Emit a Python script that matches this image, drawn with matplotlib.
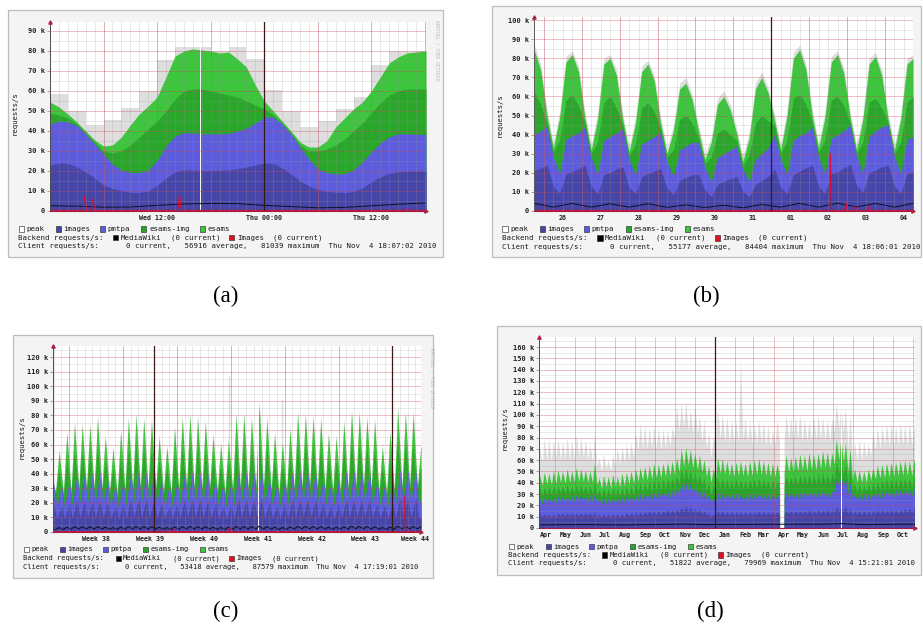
import numpy as np
import matplotlib
matplotlib.use("Agg")
import matplotlib.pyplot as plt
from matplotlib.patches import Rectangle
from datetime import date

plt.rcParams["font.family"] = "DejaVu Sans Mono"

W, H = 923, 630
nan = np.nan

C_PEAK = "#dedede"
C_IMAGES = "#4646a8"
C_PMTPA = "#5c5cdc"
C_ESAMS_IMG = "#2aa62a"
C_ESAMS = "#3ec53e"
C_MW = "#0c0c24"
C_RED = "#d01038"


def flat(groups):
    return [v for g in groups for v in g]


# ---------------- (a) day view, k req/s per hour, hour 0 = Wed 00:00
a_hours = np.arange(43)
a_esams = [54.5, 52, 48.5, 44.5, 40, 35.5, 32.5, 33, 37, 43, 48.5, 52.5, 57, 67, 77.5,
           80, 81.039, 80.5, 80, 79, 79.5, 76, 72, 63, 55, 50, 45, 40, 34.5, 32, 32, 35,
           42, 46.5, 51, 54.5, 60, 67, 74, 77, 79, 79.5, 80]
a_esams_img = [49, 48, 46.5, 43.5, 39, 34.5, 30, 29, 30, 33, 37, 41, 45, 50, 56, 60, 61,
               61, 60, 59, 58, 57, 55, 53, 51, 48, 44, 39, 33, 30, 30, 31, 33, 36, 40, 44,
               49, 54, 58, 60, 61, 61, 61]
a_pmtpa = [43.3, 45, 44.5, 42.8, 38.5, 33.5, 28.5, 23.5, 20.5, 19.3, 19.2, 20.2, 25.3,
           32.5, 37.5, 39.2, 39, 38.6, 38.6, 38.6, 38.8, 40, 41.3, 44, 47, 47, 43.5, 38.5,
           32, 26, 21, 19.2, 18.6, 18.6, 20.5, 24.5, 29.5, 34, 37, 38.6, 38.6, 38.4, 38.3]
a_images = [22.8, 24, 23.8, 22, 19.5, 16.5, 13, 11.2, 10.2, 9.3, 9.2, 10, 12.8, 16.5,
            19.5, 20.6, 20.5, 20.3, 20.3, 20.3, 20.5, 21.2, 22, 23, 24, 23.8, 21.5, 18.5,
            15, 12.5, 10.8, 9.8, 9.4, 9.2, 9.8, 11.5, 14.5, 17, 18.8, 19.6, 20, 20, 20]
a_peak = [58.6, 50, 42.8, 45.6, 51.6, 60, 75.5, 81.9, 82, 80, 82, 76, 60.6, 50, 42, 45,
          51, 57, 73, 80, 80]
a_mw = [2.6, 2.4, 1.9, 2.0, 2.8, 3.5, 3.8, 3.7, 2.8, 2.2, 1.6, 1.8, 2.6, 3.4, 4.0]
a_red_spikes = [(3.9, 7.5), (4.8, 6.0), (14.5, 8.2), (40.2, 1.2)]
a_gap = 16.75

# ---------------- (b) 10 day view, every 4 h from Oct 25 18:00 (day 0 = Oct 25 00:00)
b_esams = flat([[84, 74],
                [50, 33, 49, 78, 82, 73], [49, 32, 48, 77, 80, 71], [48, 31, 46, 73, 77, 68],
                [46, 30, 42, 64, 67, 58], [42, 27, 36, 56, 60, 53], [41, 26, 38, 64, 70, 62],
                [48, 32, 50, 80, 84.404, 74], [50, 33, 49, 78, 82, 72], [49, 32, 48, 77, 81, 71],
                [48, 32, 48, 77, 80]])
b_esams_img = flat([[62, 56],
                    [46, 31, 37, 58, 61, 55], [46, 30, 36, 57, 60, 54], [45, 29, 35, 54, 57, 52],
                    [43, 28, 32, 48, 50, 46], [38, 25, 28, 41, 43, 40], [37, 24, 29, 46, 50, 47],
                    [45, 30, 37, 59, 61, 56], [46, 31, 37, 58, 60, 55], [46, 30, 36, 57, 59, 54],
                    [46, 30, 36, 57, 60]])
b_pmtpa = flat([[40, 42],
                [44.5, 28.5, 19.5, 37.5, 39.5, 41], [44, 28, 19.5, 37, 39, 41], [43, 27, 19, 35, 37, 39],
                [41, 26, 18, 32, 34, 36], [36, 23, 15.5, 28, 30, 32], [34, 22, 15.5, 27, 30, 33],
                [40, 27, 19, 37, 39.5, 41], [44, 28, 19.5, 38, 40, 42], [45, 29, 20, 39, 42, 44],
                [45, 28.5, 19.5, 37.5, 39]])
b_images = flat([[21, 22.5],
                 [24, 13, 9.2, 19.5, 20.5, 22], [24, 13, 9, 19, 20, 22], [23, 12.5, 9, 18, 19.5, 21],
                 [22, 12, 8.5, 16, 17.5, 19], [19, 11, 7.5, 14, 15.5, 17], [18, 10.5, 7.5, 14, 16, 18],
                 [22, 12.5, 9, 19, 21, 22.5], [24, 13, 9.2, 19.5, 20.5, 22.5],
                 [24.5, 13.5, 9.5, 20, 21.5, 23], [24, 13, 9.2, 19.5, 20.5]])
b_peak = flat([[87, 77],
               [53, 36, 52, 81, 84, 76], [52, 35, 51, 80, 82, 74], [51, 34, 49, 76, 79, 71],
               [49, 33, 45, 67, 70, 61], [45, 30, 39, 59, 63, 56], [44, 29, 41, 67, 73, 65],
               [51, 35, 53, 83, 87, 77], [53, 36, 52, 81, 84, 75], [52, 35, 51, 80, 83, 74],
               [51, 35, 51, 80, 82]])
b_mw = [4.0, 2.0, 4.0, 2.0, 3.8, 2.0, 3.8, 1.9, 3.2, 1.8, 3.0, 1.7, 3.4, 2.0, 4.0, 2.0,
        4.1, 2.1, 4.0, 2.0, 4.0]
b_red_spikes = [(8.56, 30), (8.97, 5), (9.19, 2.5), (9.58, 3)]

# ---------------- (c) 6 week view, one high/low per day from Sep 18 (day 0 = Sep 1)
c_total_hi = flat([[55, 67, 74, 73, 73, 78, 65], [57, 69, 77, 80, 77, 76, 65],
                   [58, 71, 78, 80, 78, 75, 66], [60, 63, 80, 80, 77, 87.579, 77],
                   [67, 61, 70, 81, 80, 79, 77], [67, 65, 75, 82, 81, 78, 76],
                   [58, 68, 84, 81, 81, 58]])
c_total_lo = flat([[29, 27, 28, 30, 30, 30, 30], [28, 26, 29, 30, 30, 30, 30],
                   [28, 27, 29, 31, 30, 30, 30], [28, 27, 29, 30, 30, 31, 30],
                   [29, 27, 28, 30, 31, 31, 30], [29, 28, 28, 30, 31, 31, 30],
                   [28, 27, 29, 31, 31, 31]])
c_img_hi = flat([[42, 50, 55, 55, 55, 58, 49], [43, 51, 57, 60, 58, 57, 49],
                 [44, 53, 58, 60, 58, 56, 50], [45, 48, 60, 60, 58, 62, 58],
                 [50, 46, 52, 60, 60, 59, 58], [50, 49, 56, 61, 60, 58, 57],
                 [44, 51, 62, 60, 60, 44]])
c_img_lo = flat([[27, 25, 26, 28, 28, 28, 28], [26, 24, 27, 28, 28, 28, 28],
                 [26, 25, 27, 29, 28, 28, 28], [26, 25, 27, 28, 28, 29, 28],
                 [27, 25, 26, 28, 29, 29, 28], [27, 26, 26, 28, 29, 29, 28],
                 [26, 25, 27, 29, 29, 29]])
c_pmtpa_hi = flat([[33, 32, 35, 40, 40, 40, 41], [35, 32, 35, 41, 42, 41, 41],
                   [35, 32, 35, 41, 42, 41, 40], [35, 33, 34, 41, 42, 41, 41],
                   [37, 33, 35, 41, 42, 41, 41], [36, 33, 36, 42, 42, 41, 41],
                   [35, 33, 36, 43, 42, 42]])
c_pmtpa_lo = flat([[18, 17, 18, 20, 20, 20, 20], [18, 17, 18, 20, 20, 20, 20],
                   [18, 17, 19, 20, 20, 20, 20], [18, 17, 18, 20, 20, 21, 20],
                   [19, 17, 18, 20, 21, 21, 20], [19, 18, 18, 20, 21, 21, 20],
                   [18, 17, 19, 21, 21, 21]])
c_images_hi = flat([[19, 18, 20, 22, 22, 22, 22], [20, 18, 20, 23, 23, 23, 22],
                    [20, 18, 20, 23, 23, 23, 22], [20, 18, 19, 23, 23, 23, 23],
                    [21, 19, 20, 23, 23, 23, 23], [21, 19, 20, 23, 23, 23, 23],
                    [20, 19, 20, 24, 23, 23]])
c_images_lo = flat([[9, 8.5, 9, 9.5, 9.5, 9.5, 9.5], [9, 8.5, 9, 9.5, 9.5, 9.5, 9.5],
                    [9, 8.5, 9, 10, 9.5, 9.5, 9.5], [9, 8.5, 9, 9.5, 10, 10, 9.5],
                    [9, 8.5, 9, 9.5, 10, 10, 9.5], [9, 8.5, 9, 10, 10, 10, 9.5],
                    [9, 8.5, 9, 10, 10, 10]])
c_peak_hi = flat([[58, 70, 77, 76, 76, 81, 68], [60, 72, 80, 83, 80, 79, 68],
                  [61, 74, 81, 83, 81, 78, 69], [63, 66, 83, 83, 80, 91, 80],
                  [70, 64, 73, 84, 83, 82, 80], [70, 68, 78, 85, 84, 81, 79],
                  [61, 71, 87, 84, 84, 61]])
c_peak_spikes = [(39.8, 107), (46.7, 91)]
c_mw_hi = flat([[3.0, 3.3, 3.7, 3.7, 3.7, 3.8, 3.3], [3.0, 3.4, 3.8, 3.9, 3.8, 3.8, 3.3],
                [3.0, 3.5, 3.8, 3.9, 3.8, 3.7, 3.3], [3.1, 3.2, 3.9, 3.9, 3.8, 4.0, 3.8],
                [3.4, 3.1, 3.5, 3.9, 3.9, 3.8, 3.8], [3.4, 3.3, 3.7, 4.0, 3.9, 3.8, 3.7],
                [3.0, 3.4, 4.1, 3.9, 3.9, 3.5]])
c_mw_lo = flat([[1.8, 1.7, 1.8, 2.0, 2.0, 2.0, 2.0], [1.8, 1.7, 1.8, 2.0, 2.0, 2.0, 2.0],
                [1.8, 1.7, 1.8, 2.0, 2.0, 2.0, 2.0], [1.8, 1.7, 1.8, 2.0, 2.0, 2.1, 2.0],
                [1.8, 1.7, 1.8, 2.0, 2.1, 2.1, 2.0], [1.8, 1.7, 1.8, 2.0, 2.1, 2.1, 2.0],
                [1.8, 1.7, 1.8, 2.1, 2.1, 2.1]])
c_red_spikes = [(32.5, 2), (39.9, 3), (62.6, 25)]
c_gap = 43.5

# ---------------- (d) 19 month view: weekday high (Wed) and weekend low (Sun) per week
d_total_wed = flat([[46, 49, 48, 50], [51, 50, 52, 50], [53, 52, 51, 50], [57, 44, 46, 45, 47],
                    [45, 48, 49, 50], [52, 53, 54, 55, 57], [56, 57, 58, 59], [62, 70, 71, 69],
                    [66, 64, 60, 55, 52], [62, 61, 59, 57], [58, 59, 57, 59], [60, 61, 59, 58, 57],
                    [56, nan, 64, 62], [63, 65, 64, 66], [65, 66, 68, 67, 66], [78, 79.969, 75, 70],
                    [52, 51, 50, 52], [53, 55, 56, 57, 58], [58, 59, 60, 59], [59]])
d_total_sun = flat([[37, 38, 38], [39, 40, 39, 40, 40], [41, 41, 40, 40], [38, 35, 36, 35],
                    [36, 36, 37, 38, 39], [41, 42, 42, 43], [44, 44, 45, 46], [46, 49, 54, 55, 53],
                    [51, 49, 45, 40], [44, 48, 47, 46, 45], [46, 46, 45, 46], [47, 47, 46, 45],
                    [45, 46, 48, 49], [49, 50, 51, 50, 51], [51, 52, 53, 52], [56, 60, 58, 50],
                    [42, 40, 40, 40, 42], [43, 44, 44, 45], [45, 46, 46, 46, 46]])
d_img_wed = flat([[35, 36, 36, 37], [37, 37, 38, 37], [38, 38, 37, 37], [40, 34, 35, 35, 36],
                  [35, 36, 37, 37], [39, 40, 40, 41, 42], [42, 43, 43, 44], [46, 52, 53, 51],
                  [49, 47, 44, 40, 38], [44, 44, 43, 42], [43, 43, 42, 43], [43, 44, 43, 42, 42],
                  [42, nan, 46, 45], [46, 47, 47, 48], [47, 48, 49, 48, 48], [58, 60, 57, 53],
                  [39, 39, 38, 39], [40, 41, 42, 43, 43], [43, 44, 44, 44], [44]])
d_img_sun = flat([[28, 29, 29], [29, 30, 30, 30, 30], [31, 31, 30, 30], [29, 27, 27, 27],
                  [27, 28, 28, 29, 29], [31, 31, 32, 32], [33, 33, 34, 35], [35, 38, 42, 42, 40],
                  [38, 36, 33, 29], [32, 35, 35, 34, 34], [35, 34, 34, 35], [35, 35, 35, 34],
                  [34, 35, 36, 37], [37, 37, 38, 38, 38], [38, 38, 39, 38], [43, 48, 46, 39],
                  [32, 31, 31, 32, 32], [33, 33, 34, 34], [34, 35, 35, 35, 35]])
d_pmtpa_wed = flat([[26, 27, 27, 27], [28, 28, 28, 28], [29, 29, 28, 28], [30, 26, 27, 26, 27],
                    [27, 27, 28, 28], [29, 30, 30, 31, 31], [32, 32, 33, 33], [35, 39, 40, 39],
                    [36, 34, 32, 29, 27], [31, 31, 30, 30], [30, 30, 29, 30], [30, 31, 30, 30, 29],
                    [30, nan, 32, 31], [31, 31, 32, 32], [32, 32, 33, 32, 32], [43, 45, 44, 40],
                    [30, 30, 30, 30], [31, 32, 32, 33, 33], [33, 34, 34, 34], [34]])
d_pmtpa_sun = flat([[21, 22, 22], [22, 23, 23, 23, 23], [24, 24, 23, 23], [22, 21, 21, 21],
                    [21, 22, 22, 23, 23], [24, 24, 25, 25], [26, 26, 27, 27], [27, 30, 33, 33, 31],
                    [29, 27, 25, 22], [23, 25, 25, 25, 25], [25, 24, 24, 25], [25, 25, 25, 24],
                    [24, 25, 26, 26], [26, 26, 26, 27, 27], [27, 27, 27, 27], [32, 37, 36, 30],
                    [25, 24, 24, 25, 25], [26, 26, 27, 27], [27, 28, 28, 28, 28]])
d_images_wed = flat([[12, 12, 12, 12], [13, 13, 13, 13], [13, 13, 13, 13], [14, 12, 12, 12, 12],
                     [12, 12, 13, 13], [14, 14, 14, 15, 15], [15, 15, 16, 16], [16, 18, 19, 18],
                     [17, 16, 15, 13, 12], [15, 15, 14, 14], [14, 14, 14, 14], [14, 15, 14, 14, 14],
                     [14, nan, 15, 15], [15, 15, 15, 16], [15, 16, 16, 16, 16], [18, 19, 19, 17],
                     [15, 15, 15, 15], [15, 16, 16, 16, 16], [16, 16, 17, 17], [17]])
d_images_sun = flat([[9, 9, 9], [9, 10, 10, 10, 10], [10, 10, 10, 10], [9, 9, 9, 9],
                     [9, 9, 9, 10, 10], [10, 10, 11, 11], [11, 11, 12, 12], [12, 13, 14, 14, 13],
                     [13, 12, 11, 9], [10, 11, 11, 11, 11], [11, 11, 11, 11], [11, 11, 11, 11],
                     [11, 11, 11, 12], [12, 12, 12, 12, 12], [12, 12, 12, 12], [13, 14, 14, 12],
                     [11, 11, 11, 11, 11], [12, 12, 12, 12], [12, 12, 13, 13, 13]])
d_peak_wed = flat([[70, 78, 78, 77], [78, 76, 79, 77], [82, 80, 78, 74], [83, 62, 65, 60, 65],
                   [70, 72, 74, 75], [85, 92, 90, 88, 90], [88, 87, 86, 88], [108, 110, 112, 105],
                   [110, 100, 95, 85, 80], [106, 100, 98, 96], [95, 150, 97, 94], [92, 95, 93, 90, 86],
                   [95, nan, 100, 97], [98, 100, 96, 94], [98, 100, 97, 95, 96], [110, 108, 106, 100],
                   [75, 77, 76, 74], [85, 88, 90, 92, 93], [90, 92, 91, 93], [88]])
d_peak_sun = flat([[58, 60, 60], [61, 60, 61, 60, 60], [62, 61, 60, 58], [55, 50, 52, 50],
                   [54, 56, 58, 60, 62], [68, 70, 70, 70], [70, 69, 70, 72], [80, 85, 88, 85, 82],
                   [82, 75, 70, 62], [75, 78, 76, 75, 75], [75, 76, 75, 74], [74, 75, 72, 72],
                   [74, 75, 78, 78], [78, 78, 76, 76, 76], [78, 78, 77, 76], [85, 88, 85, 70],
                   [60, 60, 60, 62, 64], [68, 70, 72, 72], [72, 72, 73, 72, 72]])
d_mw = [2.8, 2.9, 3.0, 2.8, 2.7, 3.0, 3.2, 3.5, 3.0, 3.2, 3.2, 3.3, 3.3, 3.4, 3.4, 3.8,
        3.0, 3.2, 3.4, 3.4]
d_gap = 193

fig = plt.figure(figsize=(W / 100, H / 100), dpi=100)
fig.patch.set_facecolor("white")


def ftext(x, y, s, **kw):
    fig.text(x / W, 1 - y / H, s, **kw)


def fbox(x, yc, w, color):
    fig.add_artist(Rectangle((x / W, 1 - (yc + 2.6) / H), w / W, 5.2 / H,
                             transform=fig.transFigure, facecolor=color,
                             edgecolor="#202020", lw=0.4, zorder=4))


def zigzag(xa, ya, xb, yb):
    x = np.concatenate([xa, xb])
    y = np.concatenate([np.asarray(ya, float), np.asarray(yb, float)])
    o = np.argsort(x, kind="stable")
    return x[o], y[o]


def to_edges(x, y, x0, x1):
    x = np.asarray(x, float)
    y = np.asarray(y, float)
    return np.r_[x0, x, x1], np.r_[y[0], y, y[-1]]


def spike_line(x0, x1, base, spikes, w):
    xs, ys = [x0], [base]
    for t, h in spikes:
        xs += [t - w, t, t + w]
        ys += [base, h, base]
    return xs + [x1], ys + [base]


def panel(box, plot, ytop, xlim):
    l, t, r, b = box
    fig.add_artist(Rectangle((l / W, 1 - b / H), (r - l) / W, (b - t) / H,
                             transform=fig.transFigure, facecolor="#f4f4f4",
                             edgecolor="#bcbcbc", lw=0.9, zorder=-1))
    pl, pt, pr, pb = plot
    ax = fig.add_axes([pl / W, 1 - pb / H, (pr - pl) / W, (pb - pt) / H])
    ax.set_xlim(*xlim)
    ax.set_ylim(0, ytop)
    ax.set_facecolor("white")
    for s in ("top", "right"):
        ax.spines[s].set_visible(False)
    ax.spines["left"].set_color("#4a4a4a")
    ax.spines["left"].set_linewidth(0.7)
    ax.spines["bottom"].set_color("#a02040")
    ax.spines["bottom"].set_linewidth(0.8)
    yt = np.arange(0, ytop, 10)
    ax.set_yticks(yt, ["0"] + [f"{int(v)} k" for v in yt[1:]])
    ax.tick_params(axis="y", length=2, width=0.5, color="#808080", pad=1.5,
                   labelsize=5.0, labelcolor="#202020")
    ax.tick_params(axis="x", length=0, pad=3, labelsize=4.8, labelcolor="#202020")
    for lab in ax.get_yticklabels():
        lab.set_fontweight("bold")
    ax.plot([0], [1], marker="^", ms=2.4, color="#b02040", transform=ax.transAxes,
            clip_on=False, zorder=6)
    ax.plot([1], [0], marker=">", ms=2.4, color="#b02040", transform=ax.transAxes,
            clip_on=False, zorder=6)
    return ax


def xlabels(ax, pos, labels):
    ax.set_xticks(pos, labels)
    for lab in ax.get_xticklabels():
        lab.set_fontweight("bold")


def grid(ax, xminor, xmajor, ytop):
    for v in xminor:
        ax.axvline(v, color="#9a9a9a", lw=0.5, alpha=0.3, zorder=4)
    for v in np.arange(5, ytop, 10):
        ax.axhline(v, color="#9a9a9a", lw=0.5, alpha=0.3, zorder=4)
    for v in xmajor:
        ax.axvline(v, color="#d04858", lw=0.55, alpha=0.45, zorder=4)
    for v in np.arange(10, ytop, 10):
        ax.axhline(v, color="#d04858", lw=0.55, alpha=0.45, zorder=4)


def fill(ax, x, y, color):
    ax.fill_between(x, 0, y, color=color, lw=0, zorder=1)


def legend(x0, rows, cw, stats, fs):
    y1, y2, y3 = rows
    kw = dict(fontsize=fs, va="center", ha="left", color="#1a1a1a")
    bw = 1.15 * cw
    for col, name, c in [(0.1, "peak", "white"), (8.5, "images", C_IMAGES),
                         (18.4, "pmtpa", C_PMTPA), (27.8, "esams-img", C_ESAMS_IMG),
                         (41.0, "esams", C_ESAMS)]:
        fbox(x0 + col * cw, y1, bw, c)
        ftext(x0 + (col + 1.75) * cw, y1, name, **kw)
    ftext(x0, y2, "Backend requests/s:", **kw)
    fbox(x0 + 21.4 * cw, y2, bw, "black")
    ftext(x0 + 23.1 * cw, y2, "MediaWiki", **kw)
    ftext(x0 + 34.6 * cw, y2, "(0 current)", **kw)
    fbox(x0 + 47.7 * cw, y2, bw, "#e01020")
    ftext(x0 + 49.4 * cw, y2, "Images", **kw)
    ftext(x0 + 57.5 * cw, y2, "(0 current)", **kw)
    ftext(x0, y3, stats, **kw)


def stats_line(avg, peak_k, stamp):
    return (f"Client requests/s:      0 current,   {avg} average,   "
            f"{int(round(peak_k * 1000))} maximum  {stamp}")


def ylabel(x, y, fs=5.2):
    ftext(x, y, "requests/s", rotation=90, ha="center", va="center", fontsize=fs,
          color="#1a1a1a")


def signature(x, y):
    ftext(x, y, "RRDTOOL / TOBI OETIKER", rotation=270, ha="center", va="center",
          fontsize=3.3, color="#bdbdbd")


def caption(x, y, s):
    ftext(x, y, s, fontsize=16.5, family="Liberation Serif", ha="center", va="center")


# ================= (a)
ax = panel((8, 10, 443, 257), (50, 22, 426, 211), 94.5, (0, 42.12))
ax.stairs(a_peak, np.arange(0, 43, 2), fill=True, color=C_PEAK, lw=0, zorder=0.5)
for ys, c in [(a_esams, C_ESAMS), (a_esams_img, C_ESAMS_IMG), (a_pmtpa, C_PMTPA),
              (a_images, C_IMAGES)]:
    fill(ax, *to_edges(a_hours, ys, 0, 42.12), c)
ax.axvline(a_gap, color="white", lw=0.7, zorder=1.5)
ax.plot(*to_edges(np.arange(0, 43, 3), a_mw, 0, 42.12), color=C_MW, lw=0.7, zorder=2)
ax.plot(*spike_line(0, 42.12, 0.3, a_red_spikes, 0.2), color=C_RED, lw=0.8, zorder=2)
grid(ax, np.arange(1, 43), np.arange(6, 43, 6), 94.5)
ax.axvline(24, color="#3a1818", lw=0.9, zorder=5)
xlabels(ax, [12, 24, 36], ["Wed 12:00", "Thu 00:00", "Thu 12:00"])
legend(18.5, (229, 237.7, 246.3), 4.42, stats_line(56916, max(a_esams), "Thu Nov  4 18:07:02 2010"), 5.29)
ylabel(15, 113)
signature(437, 50)
caption(226, 296, "(a)")

# ================= (b)
b_t = 0.75 + np.arange(61) / 6
bx = (0.74, 10.74)
ax = panel((492, 6, 921, 257), (534, 17, 913, 211), 101.6, bx)
for ys, c in [(b_peak, C_PEAK), (b_esams, C_ESAMS), (b_esams_img, C_ESAMS_IMG),
              (b_pmtpa, C_PMTPA), (b_images, C_IMAGES)]:
    fill(ax, *to_edges(b_t, ys, *bx), c)
ax.plot(*to_edges(0.75 + np.arange(21) / 2, b_mw, *bx), color=C_MW, lw=0.7, zorder=2)
ax.plot(*spike_line(bx[0], bx[1], 0.3, b_red_spikes, 0.025), color=C_RED, lw=0.8, zorder=2)
grid(ax, np.arange(0.75, 10.75, 0.25), np.arange(1, 11), 101.6)
ax.axvline(7, color="#3a1818", lw=0.9, zorder=5)
xlabels(ax, np.arange(1, 11) + 0.5, ["26", "27", "28", "29", "30", "31", "01", "02", "03", "04"])
legend(502, (229, 238, 247), 4.46, stats_line(55177, max(b_esams), "Thu Nov  4 18:06:01 2010"), 5.34)
ylabel(500, 115)
caption(706, 296, "(b)")

# ================= (c)
c_day = 17 + np.arange(48)
cx = (16.9, 64.72)
ax = panel((13, 335, 433, 578), (53, 346, 421, 532), 127.6, cx)
layers_c = [
    (zigzag(c_day + 0.69, c_peak_hi, c_day + 0.25, c_total_lo), C_PEAK),
    (zigzag(c_day + 0.69, c_total_hi, c_day + 0.25, c_total_lo), C_ESAMS),
    (zigzag(c_day + 0.67, c_img_hi, c_day + 0.25, c_img_lo), C_ESAMS_IMG),
    (zigzag(c_day + 0.02, c_pmtpa_hi, c_day + 0.38, c_pmtpa_lo), C_PMTPA),
    (zigzag(c_day + 0.02, c_images_hi, c_day + 0.40, c_images_lo), C_IMAGES),
]
for (xs, ys), c in layers_c:
    fill(ax, *to_edges(xs, ys, *cx), c)
ax.vlines([s[0] for s in c_peak_spikes], 0, [s[1] for s in c_peak_spikes], color=C_PEAK,
          lw=1.0, zorder=0.5)
ax.axvline(c_gap, color="white", lw=0.7, zorder=1.5)
ax.plot(*to_edges(*zigzag(c_day + 0.69, c_mw_hi, c_day + 0.25, c_mw_lo), *cx), color=C_MW,
        lw=0.7, zorder=2)
ax.plot(*spike_line(cx[0], cx[1], 0.3, c_red_spikes, 0.15), color=C_RED, lw=0.8, zorder=2)
grid(ax, np.arange(17, 65), np.arange(19, 65, 7), 127.6)
for v in (30, 61):
    ax.axvline(v, color="#3a1818", lw=0.9, zorder=5)
xlabels(ax, [22.5, 29.5, 36.5, 43.5, 50.5, 57.5, 64.0], [f"Week {w}" for w in range(38, 45)])
legend(23.3, (549.3, 558.3, 566.7), 4.32, stats_line(53418, max(c_total_hi), "Thu Nov  4 17:19:01 2010"), 5.17)
ylabel(21.7, 437)
signature(431.5, 378)
caption(226, 611, "(c)")

# ================= (d)
ref = date(2010, 1, 1)
months = [(2009 + (m - 1) // 12, (m - 1) % 12 + 1) for m in range(4, 24)]
month_start = np.array([(date(y, m, 1) - ref).days for y, m in months])
d_wed = -268 + 7 * np.arange(83)
d_sun = -264 + 7 * np.arange(82)
dx = (-269.8, 307.0)
ax = panel((497, 326, 921, 575), (539, 337, 915, 528), 168.9, dx)
for (xs, ys), c in [(zigzag(d_wed, d_peak_wed, d_sun, d_peak_sun), C_PEAK),
                    (zigzag(d_wed, d_total_wed, d_sun, d_total_sun), C_ESAMS),
                    (zigzag(d_wed, d_img_wed, d_sun, d_img_sun), C_ESAMS_IMG),
                    (zigzag(d_wed, d_pmtpa_wed, d_sun, d_pmtpa_sun), C_PMTPA),
                    (zigzag(d_wed, d_images_wed, d_sun, d_images_sun), C_IMAGES)]:
    fill(ax, *to_edges(xs, ys, *dx), c)
ax.axvline(d_gap, color="white", lw=0.7, zorder=1.5)
ax.plot(*to_edges(month_start + 15, d_mw, *dx), color=C_MW, lw=0.7, zorder=2)
ax.plot(dx, [0.4, 0.4], color=C_RED, lw=0.8, zorder=2)
grid(ax, [], month_start, 168.9)
ax.axvline(0, color="#3a1818", lw=0.9, zorder=5)
xlabels(ax, month_start[:-1] + 15.5, [date(y, m, 1).strftime("%b") for y, m in months[:-1]])
legend(508.3, (546.7, 555, 563.3), 4.39, stats_line(51822, max(d_total_wed), "Thu Nov  4 15:21:01 2010"), 5.25)
ylabel(505, 428)
caption(710, 611, "(d)")

fig.savefig("out.png", dpi=100, facecolor="white")
